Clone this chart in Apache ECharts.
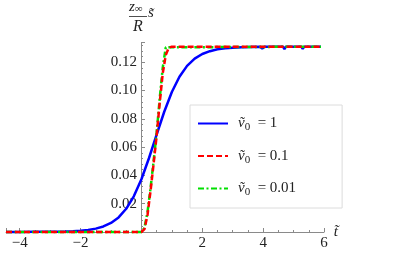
<!DOCTYPE html>
<html>
<head>
<meta charset="utf-8">
<script src="https://cdn.jsdelivr.net/npm/echarts@6/dist/echarts.min.js"></script>
<style>html,body{margin:0;padding:0;background:#fff}#c{width:415px;height:259px}</style>
</head>
<body>
<div id="c"></div>
<script>
// ---- data ----
var legendValues = ['1', '0.1', '0.01'];

var tBlue = [-4.45, -4.0, -3.5, -3.0, -2.75, -2.5, -2.25, -2.0, -1.75, -1.5, -1.25, -1.0, -0.75, -0.5, -0.25, 0.0, 0.25, 0.5, 0.75, 1.0, 1.25, 1.5, 1.75, 2.0, 2.25, 2.5, 2.75, 3.0, 3.3, 3.36, 3.42, 3.5, 3.9, 3.97, 4.05, 4.15, 4.2, 4.25, 4.5, 4.65, 4.7, 4.75, 5.05, 5.1, 5.15, 5.25, 5.3, 5.35, 5.6, 5.9];
var vBlue = [0.0000, 0.0000, 0.0001, 0.0001, 0.0002, 0.0003, 0.0005, 0.0009, 0.0014, 0.0024, 0.0039, 0.0064, 0.0103, 0.0164, 0.0252, 0.0373, 0.0523, 0.0689, 0.0850, 0.0989, 0.1097, 0.1174, 0.1225, 0.1258, 0.1278, 0.1291, 0.1298, 0.1303, 0.1306, 0.1293, 0.1306, 0.1307, 0.1309, 0.1296, 0.1309, 0.1309, 0.1295, 0.1309, 0.1310, 0.1310, 0.1293, 0.1310, 0.1310, 0.1296, 0.1310, 0.1310, 0.1294, 0.1310, 0.1310, 0.1310];

var tRed = [-4.45, 0.0, 0.1, 0.2, 0.3, 0.4, 0.5, 0.6, 0.7, 0.8, 0.9, 1.0, 5.9];
var vRed = [0.0, 0.0, 0.002, 0.012, 0.029, 0.048, 0.068, 0.091, 0.112, 0.125, 0.1302, 0.131, 0.131];

var tGreen = [-4.45, 0.0, 0.1, 0.2, 0.3, 0.4, 0.5, 0.6, 0.7, 0.8, 0.85, 5.9];
var vGreen = [0.0, 0.0, 0.003, 0.014, 0.031, 0.050, 0.070, 0.094, 0.116, 0.1305, 0.131, 0.131];

var xTickStep = 2;
var yTickStep = 0.02;

function pairs(xs, ys) { return xs.map(function (x, i) { return [x, ys[i]]; }); }

var serif = '"Liberation Serif", "DejaVu Serif", serif';
var axisGray = '#8a8a8a';

var chart = echarts.init(document.getElementById('c'), null, {renderer: 'canvas'});
chart.setOption({
  animation: false,
  backgroundColor: '#fff',
  grid: {left: 6, right: 91, top: 42.4, bottom: 27, containLabel: false, outerBoundsMode: 'none'},
  xAxis: {
    type: 'value', min: -4.45, max: 6, splitNumber: 5,
    name: 't\u0303', nameLocation: 'end', nameGap: 7,
    nameTextStyle: {fontFamily: serif, fontStyle: 'italic', fontSize: 15, color: '#222', padding: [0, 0, 6, 0]},
    axisLine: {onZero: true, lineStyle: {color: axisGray, width: 1}},
    axisTick: {inside: true, length: 4, lineStyle: {color: axisGray}},
    minorTick: {show: true, splitNumber: 4, length: 2, lineStyle: {color: axisGray}},
    splitLine: {show: false},
    axisLabel: {
      margin: 4, fontFamily: serif, fontSize: 15, color: '#222',
      formatter: function (v) {
        var k = v / xTickStep;
        if (v === 0 || Math.abs(k - Math.round(k)) > 1e-6) return '';
        return String(v).replace('-', '\u2212');
      }
    }
  },
  yAxis: {
    type: 'value', min: 0, max: 0.134, interval: yTickStep,
    offset: -135,
    axisLine: {onZero: false, lineStyle: {color: axisGray, width: 1}},
    axisTick: {inside: true, length: 4, lineStyle: {color: axisGray}},
    minorTick: {show: true, splitNumber: 5, length: 2, lineStyle: {color: axisGray}},
    splitLine: {show: false},
    axisLabel: {
      margin: 4, fontFamily: serif, fontSize: 15, color: '#222',
      formatter: function (v) {
        var k = v / yTickStep;
        if (v <= 0 || Math.abs(k - Math.round(k)) > 1e-6) return '';
        return v.toFixed(2);
      }
    }
  },
  legend: {
    left: 190, top: 105, orient: 'vertical',
    padding: [11, 46, 10, 7], itemGap: 15.5, itemWidth: 30, itemHeight: 14,
    backgroundColor: '#fff', borderColor: '#dcdcdc', borderWidth: 1,
    itemStyle: {opacity: 0, borderWidth: 0},
    formatter: function (name) {
      var i = ['s0', 's1', 's2'].indexOf(name);
      return '{v|\u1E7D}{s|0}{t|  = ' + legendValues[i] + '}';
    },
    textStyle: {
      fontFamily: serif, fontSize: 15, color: '#222', padding: [0, 0, 0, 5],
      rich: {
        v: {fontFamily: serif, fontStyle: 'italic', fontSize: 15, color: '#222'},
        s: {fontFamily: serif, fontSize: 11, color: '#222', padding: [8, 0, 0, 0]},
        t: {fontFamily: serif, fontSize: 15, color: '#222'}
      }
    },
    data: ['s0', 's1', 's2']
  },
  graphic: [
    {type: 'text', left: 129, top: 0, style: {
      text: '{z|z}{i|\u221E}',
      rich: {
        z: {font: 'italic 15px ' + serif, fill: '#222'},
        i: {font: '11px ' + serif, fill: '#222', padding: [4, 0, 0, 0]}
      }}},
    {type: 'line', shape: {x1: 129, y1: 16.5, x2: 147, y2: 16.5}, style: {stroke: '#222', lineWidth: 0.8}},
    {type: 'text', left: 133, top: 19, style: {text: 'R', font: 'italic 16px ' + serif, fill: '#222'}},
    {type: 'text', left: 148, top: 6, style: {text: 's\u0303', font: 'italic 15px ' + serif, fill: '#222'}}
  ],
  series: [
    {name: 's0', type: 'line', data: pairs(tBlue, vBlue), showSymbol: false, symbol: 'none', z: 2, clip: false,
     lineStyle: {color: '#0000ff', width: 2.5}, itemStyle: {color: '#0000ff'}},
    {name: 's1', type: 'line', data: pairs(tRed, vRed), showSymbol: false, symbol: 'none', z: 4, clip: false,
     lineStyle: {color: '#ff0000', width: 2.5, type: [6, 3]}, itemStyle: {color: '#ff0000'}},
    {name: 's2', type: 'line', data: pairs(tGreen, vGreen), showSymbol: false, symbol: 'none', z: 3, clip: false,
     lineStyle: {color: '#00e000', width: 2.5, type: [6, 2.5, 2, 2.5]}, itemStyle: {color: '#00e000'}}
  ]
});
</script>
</body>
</html>
